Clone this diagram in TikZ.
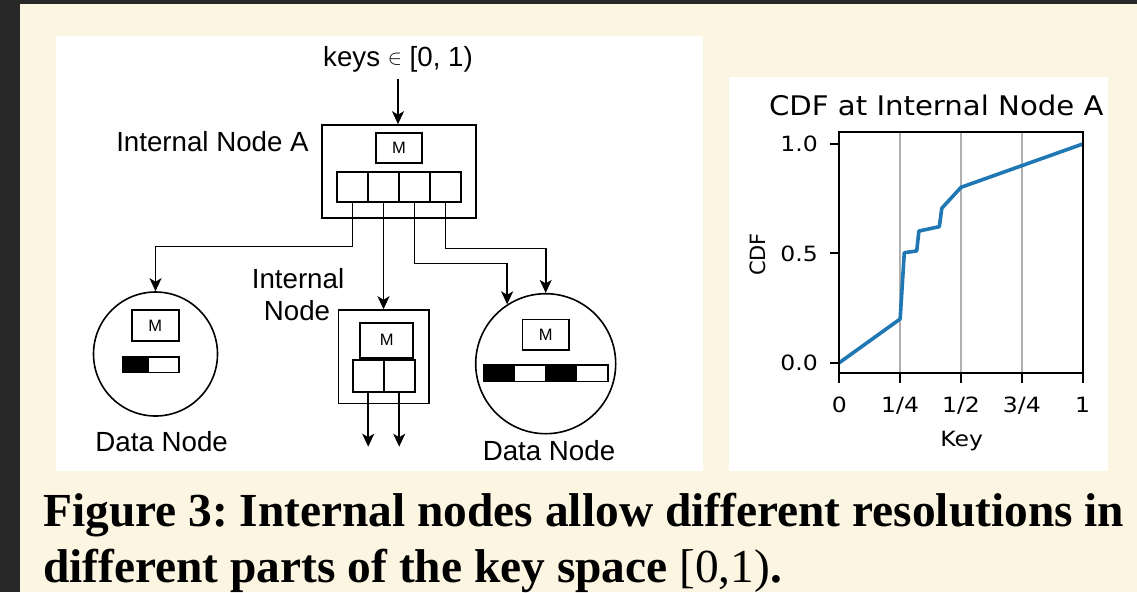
\documentclass[tikz,border=0pt]{standalone}
\usepackage{fontspec}
\usepackage{graphicx}
\setmainfont{Liberation Serif}
\newfontfamily\diagfont{Liberation Sans}
\newfontfamily\plotfont{DejaVu Sans}
\usetikzlibrary{arrows.meta}
\definecolor{paper}{HTML}{FCF5E1}
\definecolor{slate}{HTML}{282828}
\definecolor{mplblue}{HTML}{1F77B4}
\definecolor{gridgray}{HTML}{B0B0B0}
\tikzset{
  lbl/.style={font=\diagfont\fontsize{27.7}{32}\selectfont, inner sep=0pt, anchor=base},
  framebox/.style={draw, line width=1.6pt, inner sep=0pt},
  mbox/.style={framebox, font=\diagfont\fontsize{16.5}{18}\selectfont},
  cell/.style={framebox, minimum width=31pt, minimum height=#1},
  cell/.default=30pt,
  blackcell/.style={cell=#1, fill=black},
  datanode/.style={circle, draw, line width=1.6pt, inner sep=0pt},
  link/.style={line width=1.6pt, -{Stealth[length=13pt,width=12pt,inset=3.5pt]}},
  ticklbl/.style={font=\plotfont\fontsize{21}{24}\selectfont, inner sep=0pt},
  caption/.style={font=\fontsize{47.4}{56}\selectfont\bfseries, inner sep=0pt, anchor=base west}
}
\begin{document}
\frenchspacing
\begin{tikzpicture}[x=1pt, y=-1pt]
\useasboundingbox (0,0) rectangle (1137,592);
% page and panels
\fill[slate] (0,0) rectangle (1137,592);
\fill[paper] (20,4) rectangle (1137,592);
\fill[white] (56,36) rectangle (703,471);
\fill[white] (729,77) rectangle (1108,471);

% ---------- index tree ----------
\node[lbl] (keys) at (398,66) {keys \raisebox{0.04em}{\scalebox{0.85}{$\in$}} [0, 1)};
\node[lbl] (nameA) at (212.5,151.5) {Internal Node A};

% internal node A
\node[framebox, minimum width=154pt, minimum height=93pt] (A) at (399,171.5) {};
\node[mbox, minimum width=46pt, minimum height=30pt] (mA) at (399,148) {M};
\node[cell] (a1) at (352.5,187) {};
\node[cell] (a2) at (383.5,187) {};
\node[cell] (a3) at (414.5,187) {};
\node[cell] (a4) at (445.5,187) {};

% left data node
\node[datanode, minimum size=124pt] (D1) at (155.5,354) {};
\node[mbox, minimum width=47pt, minimum height=31pt] (mD1) at (155.3,325.5) {M};
\node[blackcell=15.6pt, minimum width=26pt] (d11) at (135.3,364.5) {};
\node[cell=15.6pt, minimum width=30.7pt] (d12) at (163.65,364.5) {};
\node[lbl] (nameD1) at (161.7,451.7) {Data Node};

% middle internal node
\node[lbl] (nameI1) at (298,288.3) {Internal};
\node[lbl] (nameI2) at (297,320.7) {Node};
\node[framebox, minimum width=90.4pt, minimum height=93.3pt] (I) at (383.5,356.7) {};
\node[mbox, minimum width=53pt, minimum height=35pt] (mI) at (386.7,340.2) {M};
\node[cell=32pt] (i1) at (368.2,376) {};
\node[cell=32pt] (i2) at (399.2,376) {};
\coordinate (out) at (383.5,446.7);

% right data node
\node[datanode, minimum size=140pt] (D2) at (545.7,363.7) {};
\node[mbox, minimum width=46.7pt, minimum height=30.7pt] (mD2) at (545.7,334.7) {M};
\node[blackcell=16.7pt, minimum width=31.1pt] (d21) at (498.85,373.3) {};
\node[cell=16.7pt, minimum width=31.1pt] (d22) at (529.95,373.3) {};
\node[blackcell=16.7pt, minimum width=31.1pt] (d23) at (561.05,373.3) {};
\node[cell=16.7pt, minimum width=31.1pt] (d24) at (592.15,373.3) {};
\node[lbl] (nameD2) at (549,460) {Data Node};

% routing levels of the child pointers
\coordinate (r1) at (0,246.3);
\coordinate (r3) at (0,263.3);
\coordinate (r4) at (0,248.3);
\coordinate (kin) at (0,79);

% connectors
\draw[link] (keys.south |- kin) -- (keys.south |- A.north);
\draw[link] (a1.south) |- (D1.north |- r1) -- (D1.north);
\draw[link] (a2.south) -- (a2.south |- I.north);
\draw[link] (a3.south) |- (D2.123 |- r3) -- (D2.123);
\draw[link] (a4.south) |- (D2.north |- r4) -- (D2.north);
\draw[link] (i1.south) -- (i1.south |- out);
\draw[link] (i2.south) -- (i2.south |- out);

% ---------- CDF plot ----------
\begin{scope}[shift={(839.3pt,-362.7pt)}, x=243.4pt, y=218.7pt]
  \foreach \t in {0.25,0.5,0.75}
    \draw[gridgray, line width=1.8pt] (\t,-0.0485) -- (\t,1.0535);
  \draw[mplblue, line width=3.6pt, line join=round, line cap=butt]
    (0,0) -- (0.25,0.2) -- (0.267,0.503) -- (0.318,0.511) -- (0.327,0.602)
    -- (0.411,0.622) -- (0.421,0.706) -- (0.5,0.802) -- (1,1);
  \draw[line width=2.2pt] (0,-0.0485) rectangle (1,1.0535);
  \foreach \v in {0,0.5,1}
    \draw[line width=2.2pt] (0,\v) -- ++(-9.3pt,0);
  \foreach \t in {0,0.25,0.5,0.75,1}
    \draw[line width=2.2pt] (\t,-0.0485) -- ++(0,-10pt);
\end{scope}

\node[ticklbl, anchor=east] (y0) at (818,362.7) {\scalebox{1.12}[1]{0.0}};
\node[ticklbl, anchor=east] (y1) at (818,253.35) {\scalebox{1.12}[1]{0.5}};
\node[ticklbl, anchor=east] (y2) at (818,144) {\scalebox{1.12}[1]{1.0}};
\node[ticklbl, anchor=base] (x0) at (839.3,412.7) {\scalebox{1.12}[1]{0}};
\node[ticklbl, anchor=base] (x1) at (900.15,412.7) {\scalebox{1.12}[1]{1/4}};
\node[ticklbl, anchor=base] (x2) at (961,412.7) {\scalebox{1.12}[1]{1/2}};
\node[ticklbl, anchor=base] (x3) at (1021.85,412.7) {\scalebox{1.12}[1]{3/4}};
\node[ticklbl, anchor=base] (x4) at (1082.7,412.7) {\scalebox{1.12}[1]{1}};
\node[ticklbl, anchor=base] (xlab) at (961.7,446) {\scalebox{1.12}[1]{Key}};
\node[ticklbl, anchor=base, rotate=90] (ylab) at (765,254.5) {CDF};
\node[ticklbl, anchor=base, font=\plotfont\fontsize{27}{30}\selectfont] (title) at (936.3,115)
  {\scalebox{1.08}[1]{CDF at Internal Node A}};

% ---------- caption ----------
\node[caption] (cap1) at (43,526) {Figure 3: Internal nodes allow different resolutions in};
\node[caption] (cap2) at (43,582) {different parts of the key space \textnormal{[0,1)}.};
\end{tikzpicture}
\end{document}
